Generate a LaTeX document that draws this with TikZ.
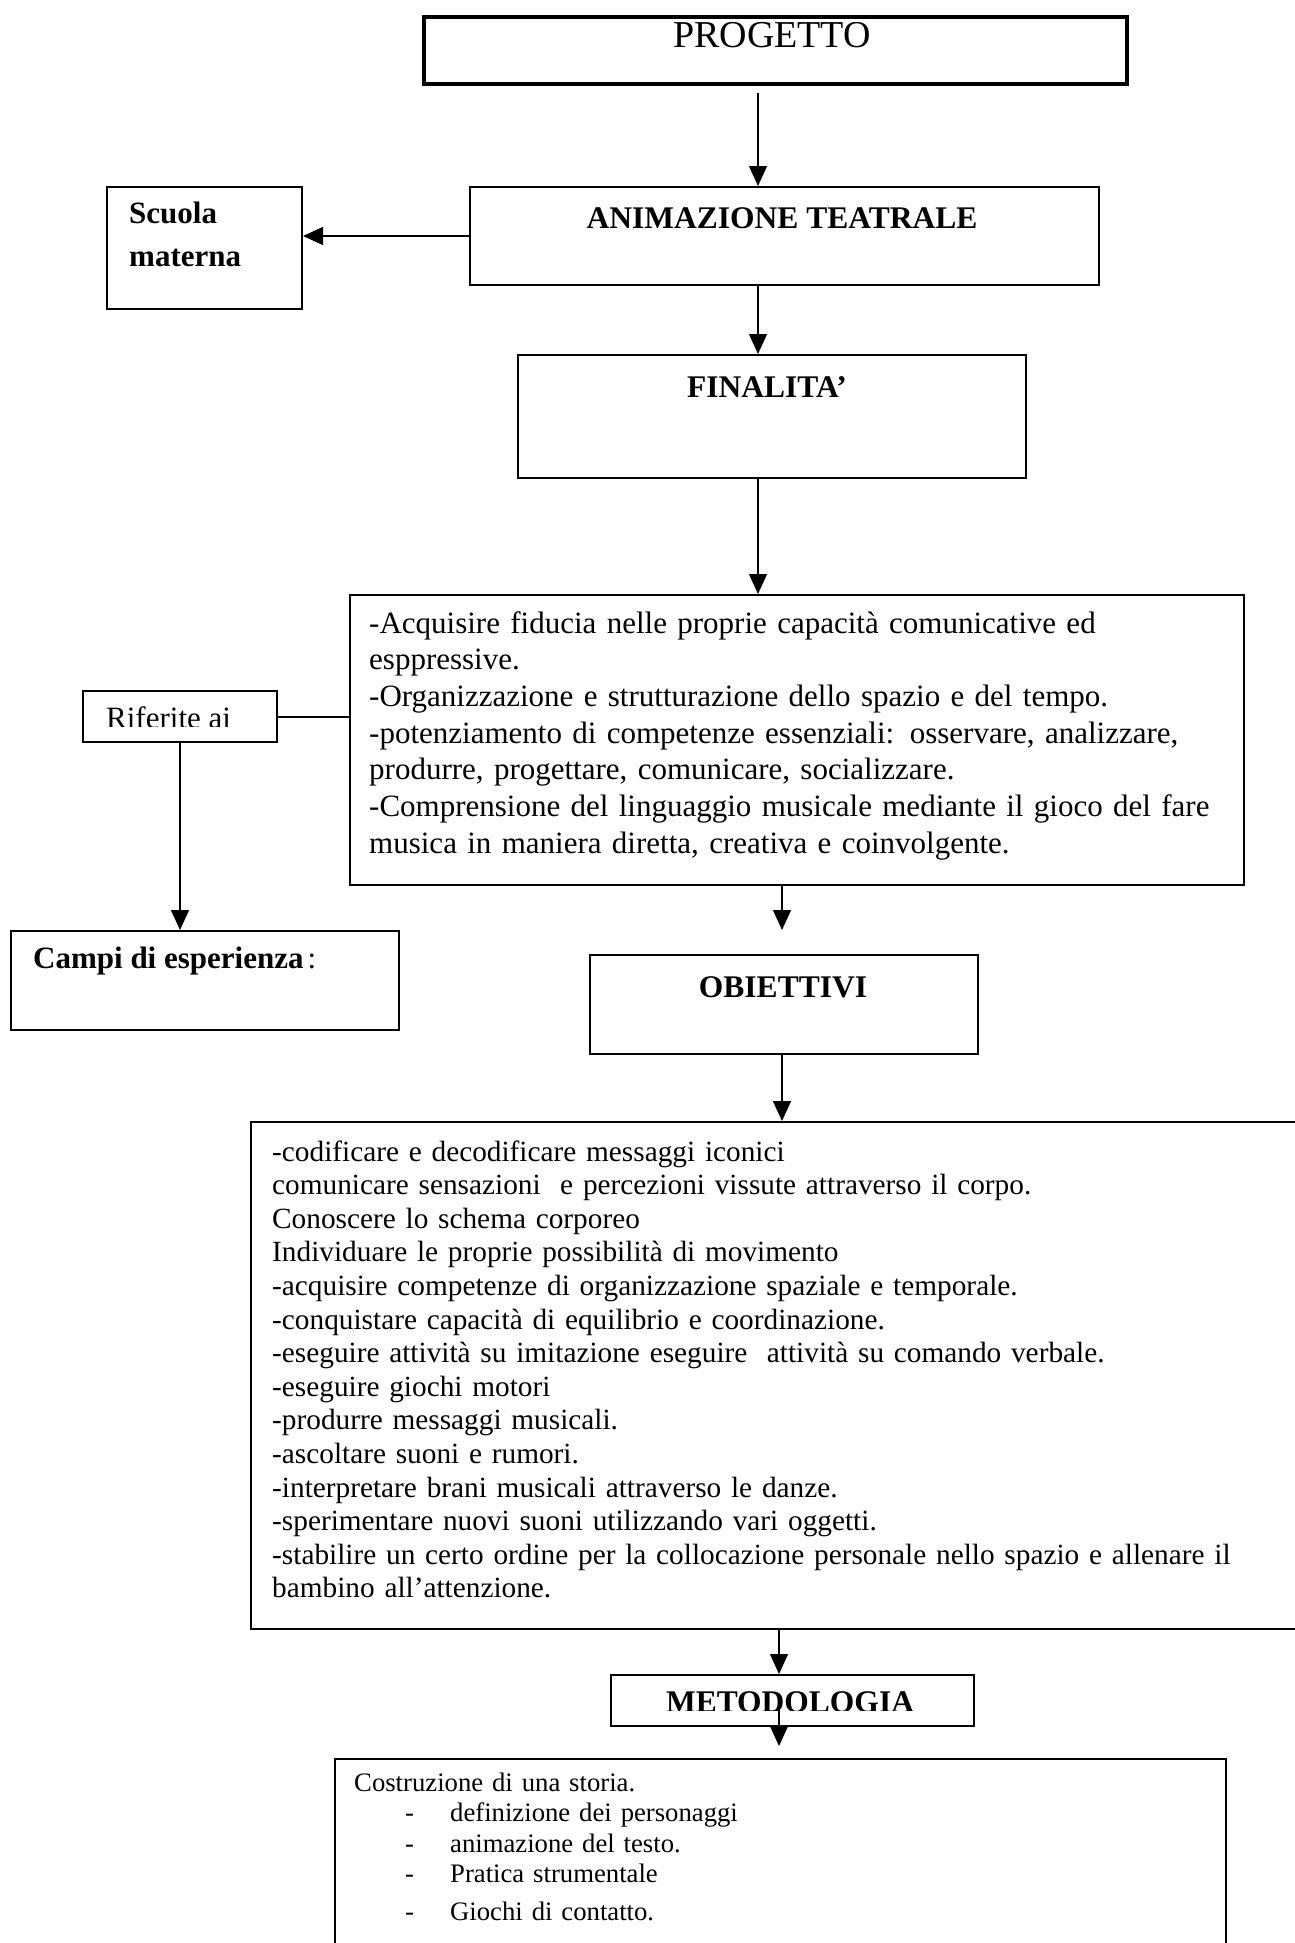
\documentclass[tikz,border=0pt]{standalone}
\usepackage{fontspec}
\setmainfont{Liberation Serif}
\usetikzlibrary{arrows.meta}
\begin{document}
\begin{tikzpicture}[x=1pt,y=-1pt,
  box/.style={draw,line width=2pt,inner sep=0pt,anchor=north west},
  arr/.style={line width=1.5pt,-{Triangle[length=20pt,width=18pt]}},
  conn/.style={line width=2pt},
  lbl/.style={inner sep=0pt,font=\fontsize{31}{37}\selectfont},
  head/.style={inner sep=0pt,anchor=base,font=\bfseries\fontsize{31.5}{37}\selectfont},
  para/.style={inner sep=0pt,anchor=base west,align=left,text width=1000pt}]
\fill[white] (0,0) rectangle (1295,1943);
\useasboundingbox (0,0) rectangle (1295,1943);
% columns for vertical connectors
\coordinate (c1) at (758,0);
\coordinate (c2) at (782,0);
\coordinate (c3) at (779,0);
% boxes
\node[box,line width=4pt,minimum width=703pt,minimum height=67pt] (progetto) at (422,15) {};
\node[box,minimum width=629pt,minimum height=98pt] (anim) at (469,186) {};
\node[box,minimum width=195pt,minimum height=122pt] (scuola) at (106,186) {};
\node[box,minimum width=508pt,minimum height=123pt] (fin) at (517,354) {};
\node[box,minimum width=894pt,minimum height=290pt] (finbox) at (349,594) {};
\node[box,minimum width=194pt,minimum height=51pt] (riferite) at (82,690) {};
\node[box,minimum width=388pt,minimum height=99pt] (campi) at (10,930) {};
\node[box,minimum width=388pt,minimum height=99pt] (obj) at (589,954) {};
\node[box,minimum width=1070pt,minimum height=507pt] (objbox) at (250,1121) {};
\node[box,minimum width=363pt,minimum height=51pt] (metod) at (610,1674) {};
\node[box,minimum width=891pt,minimum height=220pt] (metbox) at (334,1758) {};
% texts
\node[inner sep=0pt,anchor=base,font=\fontsize{38}{44}\selectfont] (tprog) at (772,48) {PROGETTO};
\node[head] (tanim) at (782,228) {ANIMAZIONE TEATRALE};
\node[para,font=\bfseries\fontsize{31}{43}\selectfont] (tscuola) at (129,223) {Scuola\\materna};
\node[head] (tfin) at (767,397) {FINALITA’};
\node[para,font=\fontsize{31}{36.7}\selectfont] (tfinbox) at (369,633) {%
-Acquisire fiducia nelle proprie capacità comunicative ed\\
esppressive.\\
-Organizzazione e strutturazione dello spazio e del tempo.\\
-potenziamento di competenze essenziali: osservare, analizzare,\\
produrre, progettare, comunicare, socializzare.\\
-Comprensione del linguaggio musicale mediante il gioco del fare\\
musica in maniera diretta, creativa e coinvolgente.};
\begin{scope}
\clip (82,690) rectangle (276,726);
\node[lbl,anchor=base west] (trif) at (106,728.5) {Riferite ai};
\end{scope}
\node[lbl,anchor=base west] (tcampi) at (33,968) {\textbf{Campi di esperienza}\hspace{4pt}:};
\node[head] (tobj) at (783,997) {OBIETTIVI};
\node[para,font=\fontsize{29.3}{33.6}\selectfont] (tobjbox) at (272,1161) {%
-codificare e decodificare messaggi iconici\\
comunicare sensazioni\ \ e percezioni vissute attraverso il corpo.\\
Conoscere lo schema corporeo\\
Individuare le proprie possibilità di movimento\\
-acquisire competenze di organizzazione spaziale e temporale.\\
-conquistare capacità di equilibrio e coordinazione.\\
-eseguire attività su imitazione eseguire\ \ attività su comando verbale.\\
-eseguire giochi motori\\
-produrre messaggi musicali.\\
-ascoltare suoni e rumori.\\
-interpretare brani musicali attraverso le danze.\\
-sperimentare nuovi suoni utilizzando vari oggetti.\\
-stabilire un certo ordine per la collocazione personale nello spazio e allenare il\\
bambino all’attenzione.};
\begin{scope}
\clip (610,1674) rectangle (973,1710);
\node[head] (tmetod) at (790,1712.6) {METODOLOGIA};
\end{scope}
\node[para,font=\fontsize{26.7}{30.5}\selectfont] (tmetbox) at (354,1791) {%
Costruzione di una storia.\\
\hspace*{51pt}\makebox[45pt][l]{-}definizione dei personaggi\\
\hspace*{51pt}\makebox[45pt][l]{-}animazione del testo.\\
\hspace*{51pt}\makebox[45pt][l]{-}Pratica strumentale\\[7pt]
\hspace*{51pt}\makebox[45pt][l]{-}Giochi di contatto.};
% connectors
\draw[arr] ([yshift=-7pt]progetto.south -| c1) -- (anim.north -| c1);
\draw[arr] (anim.west) -- (anim.west -| scuola.east);
\draw[arr] (anim.south -| c1) -- (fin.north -| c1);
\draw[arr] (fin.south -| c1) -- (finbox.north -| c1);
\draw[conn] (riferite.east) -- (riferite.east -| finbox.west);
\draw[arr] (riferite.south) -- (campi.north -| riferite.south);
\coordinate (objtop) at ([yshift=24pt]obj.north -| c2);
\draw[arr] (finbox.south -| c2) -- (objtop);
\draw[arr] (obj.south -| c2) -- (objbox.north -| c2);
\draw[arr] (objbox.south -| c3) -- (metod.north -| c3);
\coordinate (metend) at ([yshift=12pt]metbox.north -| c3);
\draw[arr] (metod.center -| c3) -- (metend);
\end{tikzpicture}
\end{document}
